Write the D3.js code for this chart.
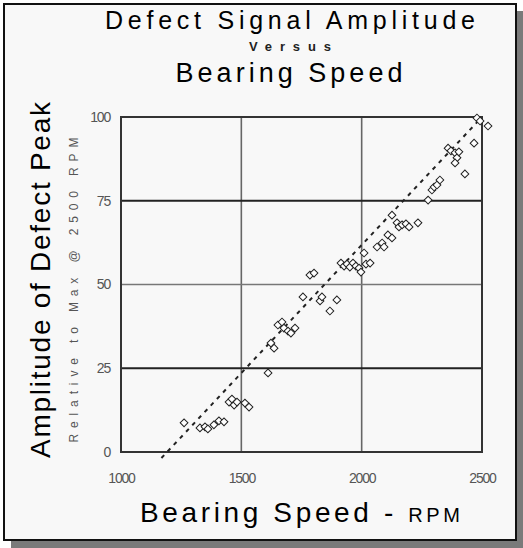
<!DOCTYPE html>
<html><head><meta charset="utf-8">
<script src="https://cdn.jsdelivr.net/npm/d3@7/dist/d3.min.js"></script>
<style>
html,body{margin:0;padding:0;background:#ffffff;}
svg{display:block;}
text{font-family:"Liberation Sans",Arial,Helvetica,sans-serif;}
</style></head>
<body>
<svg id="chart" width="523" height="548"></svg>
<script>
// ---- data ----
const speedRPM = [1262,1328,1349,1361,1386,1407,1428,1449,1461,1470,1482,1515,1532,1611,1623,1636,1652,1669,1677,1694,1706,1723,1756,1785,1802,1827,1835,1868,1897,1914,1927,1939,1951,1964,1976,1989,1997,2018,2035,2010,2064,2085,2093,2109,2126,2126,2147,2155,2168,2184,2197,2234,2276,2292,2301,2313,2325,2359,2371,2388,2396,2388,2404,2429,2467,2479,2492,2525];
const amplitude = [8.7,7.2,7.5,6.9,8.1,9.3,9.0,14.9,15.8,14.0,14.9,14.6,13.4,23.6,32.5,31.0,37.9,38.8,37.0,36.1,35.5,37.0,46.3,52.8,53.4,45.1,46.3,42.1,45.4,56.4,55.5,56.1,55.2,56.4,55.5,54.9,53.7,56.1,56.4,59.4,61.2,62.4,61.2,64.8,63.9,70.7,68.4,67.2,67.8,68.1,67.2,68.4,75.2,78.2,79.1,79.7,81.2,90.7,89.9,89.3,87.8,86.3,89.6,83.0,92.2,99.7,98.8,97.3];
const fitRPM = [1168, 2500];
const fitAmp = [-1.8, 100];
const xTicks = [1000, 1500, 2000, 2500];
const yTicks = [0, 25, 50, 75, 100];

const titleLine1 = "Defect Signal Amplitude";
const titleLine2 = "Versus";
const titleLine3 = "Bearing Speed";
const xTitle = "Bearing Speed - ";
const xTitleUnit = "RPM";
const yTitle = "Amplitude of Defect Peak";
const ySubTitle = "Relative to Max @ 2500 RPM";

// ---- layout ----
const svg = d3.select("#chart");
const pL = 121, pR = 482, pT = 117, pB = 452;

// frame with drop shadow
svg.append("rect").attr("x", 11).attr("y", 11).attr("width", 512).attr("height", 537).attr("fill", "#7a7a7a");
svg.append("rect").attr("x", 4).attr("y", 4).attr("width", 512).attr("height", 536)
  .attr("fill", "#f8f8f8").attr("stroke", "#111").attr("stroke-width", 2);

const x = d3.scaleLinear().domain([1000, 2500]).range([pL, pR]);
const y = d3.scaleLinear().domain([0, 100]).range([pB, pT]);

// grid lines
const g = svg.append("g");
g.selectAll("line.v").data(xTicks.slice(1, -1)).join("line")
  .attr("x1", d => x(d)).attr("x2", d => x(d)).attr("y1", pT).attr("y2", pB)
  .attr("stroke", "#666").attr("stroke-width", 1.6);
g.selectAll("line.h").data(yTicks.slice(1, -1)).join("line")
  .attr("x1", pL).attr("x2", pR).attr("y1", d => y(d)).attr("y2", d => y(d))
  .attr("stroke", d => d === 50 ? "#777" : "#222").attr("stroke-width", d => d === 50 ? 1.6 : 2.2);

// plot box
svg.append("rect").attr("x", pL).attr("y", pT).attr("width", pR - pL).attr("height", pB - pT)
  .attr("fill", "none").attr("stroke", "#333").attr("stroke-width", 2);

// axes (labels only)
const xAxis = svg.append("g").attr("transform", `translate(0,${pB})`)
  .call(d3.axisBottom(x).tickValues(xTicks).tickSize(0).tickPadding(21).tickFormat(d3.format("d")));
const yAxis = svg.append("g").attr("transform", `translate(${pL},0)`)
  .call(d3.axisLeft(y).tickValues(yTicks).tickSize(0).tickPadding(11).tickFormat(d3.format("d")));
[xAxis, yAxis].forEach(a => {
  a.select(".domain").remove();
  a.selectAll("text").attr("font-family", "'Liberation Sans',Arial,sans-serif")
    .attr("font-size", 14).attr("letter-spacing", "-1.2px").attr("fill", "#555");
});

// regression dashed line
svg.append("path")
  .datum(fitRPM.map((r, i) => [r, fitAmp[i]]))
  .attr("d", d3.line().x(d => x(d[0])).y(d => y(d[1])))
  .attr("stroke", "#222").attr("stroke-width", 2).attr("stroke-dasharray", "4,5").attr("fill", "none");

// points: open diamonds
const pts = speedRPM.map((r, i) => [r, amplitude[i]]);
svg.selectAll("path.pt").data(pts).join("path")
  .attr("transform", d => `translate(${x(d[0])},${y(d[1])}) rotate(45)`)
  .attr("d", d3.symbol().type(d3.symbolSquare).size(30))
  .attr("fill", "#fff").attr("stroke", "#222").attr("stroke-width", 1);

// titles
svg.append("text").attr("x", 290).attr("y", 29).attr("text-anchor", "middle")
  .attr("font-size", 25).attr("fill", "#000").attr("textLength", 370).attr("lengthAdjust", "spacing").text(titleLine1);
svg.append("text").attr("x", 290).attr("y", 51).attr("text-anchor", "middle")
  .attr("font-size", 13).attr("font-weight", "bold").attr("fill", "#222").attr("textLength", 82).attr("lengthAdjust", "spacing").text(titleLine2);
svg.append("text").attr("x", 289).attr("y", 82).attr("text-anchor", "middle")
  .attr("font-size", 27).attr("fill", "#000").attr("textLength", 227).attr("lengthAdjust", "spacing").text(titleLine3);

// x title
const xt = svg.append("text").attr("x", 300).attr("y", 522).attr("text-anchor", "middle")
  .attr("font-size", 28).attr("fill", "#000").attr("textLength", 320).attr("lengthAdjust", "spacing");
xt.append("tspan").text(xTitle);
xt.append("tspan").attr("font-size", 20).text(xTitleUnit);

// y title
svg.append("text").attr("transform", "translate(50,280) rotate(-90)").attr("text-anchor", "middle")
  .attr("font-size", 28).attr("fill", "#000").attr("textLength", 356).attr("lengthAdjust", "spacing").text(yTitle);
svg.append("text").attr("transform", "translate(78,290) rotate(-90)").attr("text-anchor", "middle")
  .attr("font-size", 12).attr("fill", "#555").attr("textLength", 305).attr("lengthAdjust", "spacing").text(ySubTitle);
</script>
</body></html>
